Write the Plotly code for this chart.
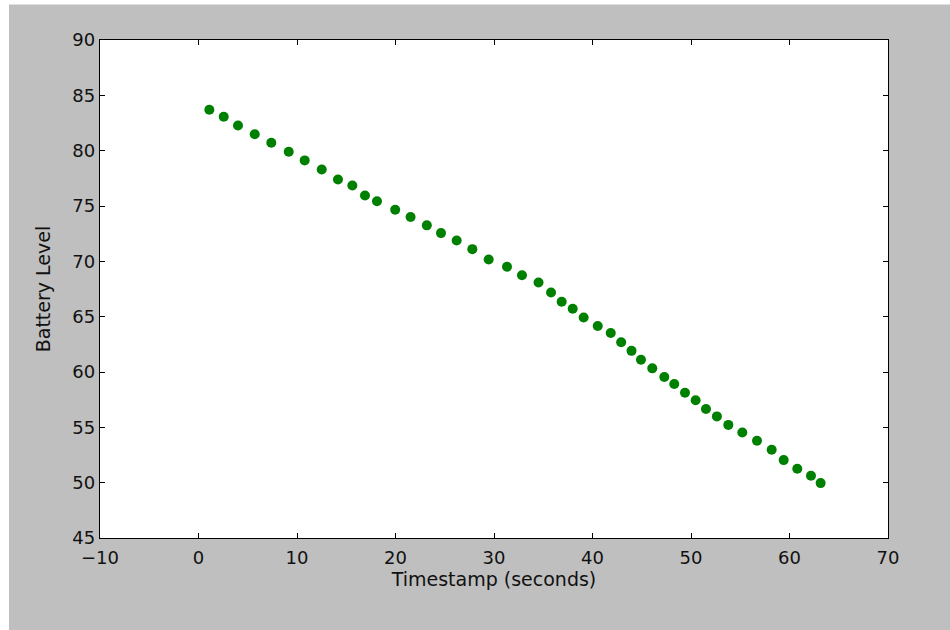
import plotly.graph_objects as go

# Battery discharge readings
timestamp_s = [1.10, 2.56, 4.01, 5.71, 7.39, 9.16, 10.78, 12.51, 14.16, 15.62,
               16.90, 18.12, 19.97, 21.53, 23.18, 24.62, 26.21, 27.80, 29.46, 31.32,
               32.84, 34.52, 35.79, 36.87, 37.99, 39.10, 40.53, 41.85, 42.91, 43.96,
               44.92, 46.07, 47.29, 48.30, 49.39, 50.47, 51.52, 52.63, 53.79, 55.21,
               56.70, 58.19, 59.41, 60.79, 62.18, 63.16]
battery_level = [83.70, 83.06, 82.28, 81.49, 80.71, 79.90, 79.12, 78.30, 77.40, 76.86,
                 75.95, 75.43, 74.66, 74.00, 73.25, 72.55, 71.89, 71.10, 70.17, 69.51,
                 68.75, 68.08, 67.18, 66.35, 65.72, 64.93, 64.15, 63.52, 62.69, 61.91,
                 61.10, 60.33, 59.55, 58.92, 58.13, 57.44, 56.65, 55.99, 55.22, 54.54,
                 53.79, 52.98, 52.04, 51.26, 50.63, 49.96]

x_ticks = [-10, 0, 10, 20, 30, 40, 50, 60, 70]
y_ticks = [45, 50, 55, 60, 65, 70, 75, 80, 85, 90]

fig = go.Figure(go.Scatter(
    x=timestamp_s, y=battery_level, mode="markers",
    marker=dict(color="#008000", size=10, line=dict(width=0)),
))

tick_font = dict(family="DejaVu Sans", size=18, color="#111111")
title_font = dict(family="DejaVu Sans", size=19, color="#111111")
axis_common = dict(
    showgrid=False, zeroline=False, showline=True, linecolor="#000000",
    linewidth=1.3, mirror="ticks", ticks="inside", ticklen=5,
    tickcolor="#000000", tickwidth=1, tickfont=tick_font,
)

fig.update_layout(
    width=950, height=630,
    margin=dict(l=100, r=62, t=40, b=92),
    paper_bgcolor="#bfbfbf", plot_bgcolor="#ffffff",
    showlegend=False,
    xaxis=dict(range=[-10, 70], tickvals=x_ticks,
               ticktext=[str(v).replace("-", "\u2212") for v in x_ticks],
               ticklabelstandoff=3,
               title=dict(text="Timestamp (seconds)", font=title_font, standoff=4),
               **axis_common),
    yaxis=dict(range=[45, 90], tickvals=y_ticks,
               title=dict(text="Battery Level", font=title_font, standoff=16),
               **axis_common),
    shapes=[
        dict(type="rect", xref="paper", yref="paper", layer="below",
             x0=-0.2, x1=-0.1155, y0=-0.3, y1=1.2,
             fillcolor="#ffffff", line=dict(width=0)),
        dict(type="rect", xref="paper", yref="paper", layer="below",
             x0=-0.2, x1=1.2, y0=1.0713, y1=1.2,
             fillcolor="#ffffff", line=dict(width=0)),
    ],
)

fig.write_html("out.html")
